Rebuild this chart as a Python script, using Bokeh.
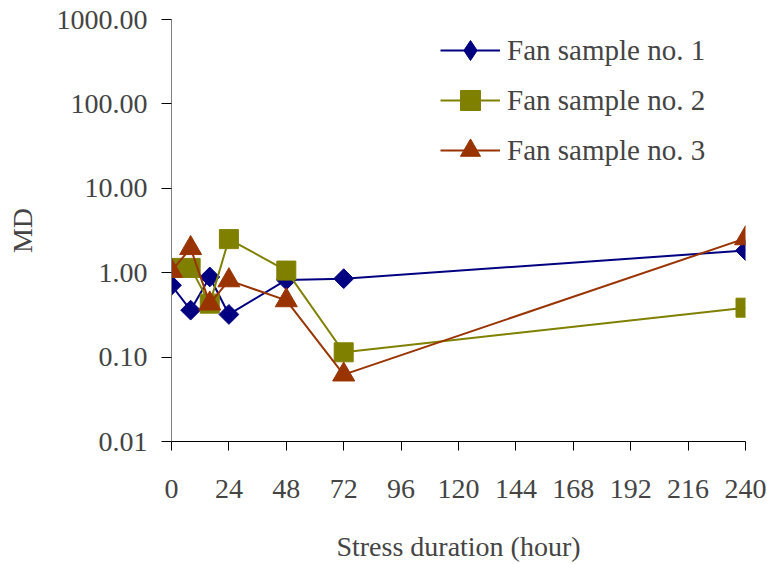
import math
from bokeh.plotting import figure
from bokeh.models import FixedTicker, PrintfTickFormatter, Legend
from bokeh.embed import file_html
from bokeh.resources import INLINE

hours = [0, 8, 16, 24, 48, 72, 240]
fan1 = [0.71, 0.36, 0.89, 0.32, 0.82, 0.85, 1.83]
fan2 = [1.14, 1.14, 0.43, 2.5, 1.06, 0.114, 0.385]
fan3 = [1.05, 1.95, 0.43, 0.81, 0.47, 0.062, 2.55]
names = ["Fan sample no. 1", "Fan sample no. 2", "Fan sample no. 3"]
x_ticks = [0, 24, 48, 72, 96, 120, 144, 168, 192, 216, 240]
y_ticks = [0.01, 0.1, 1, 10, 100, 1000]

FONT = "Liberation Serif"

p = figure(width=767, height=564, x_range=(0, 240), y_range=(0.01, 1000),
           y_axis_type="log", output_backend="svg", toolbar_location=None,
           min_border_left=171, min_border_right=22, min_border_top=19,
           min_border_bottom=120)
p.outline_line_color = None
p.xgrid.grid_line_color = None
p.ygrid.grid_line_color = None
p.background_fill_color = "white"
p.border_fill_color = "white"

r1l = p.line(hours, fan1, line_color="#000080", line_width=2)
r1m = p.scatter(hours, fan1, marker="square", angle=math.pi / 4, size=14,
                fill_color="#000080", line_color="#000080")
# legend-only diamond (legend glyphs are drawn without rotation); hidden in the plot
r1k = p.scatter(hours, fan1, marker="diamond", size=20,
                fill_color="#000080", line_color="#000080", visible=False)
r2l = p.line(hours, fan2, line_color="#808000", line_width=2)
r2m = p.scatter(hours, fan2, marker="square", size=19,
                fill_color="#808000", line_color="#808000")
r3l = p.line(hours, fan3, line_color="#993300", line_width=2)
r3m = p.scatter(hours, fan3, marker="triangle", size=22,
                fill_color="#993300", line_color="#993300")

legend = Legend(items=[(names[0], [r1l, r1k]), (names[1], [r2l, r2m]), (names[2], [r3l, r3m])],
                location=(269, 266), padding=0, margin=0, spacing=0,
                glyph_width=60, glyph_height=50, label_height=50,
                label_standoff=7, label_text_font=FONT, label_text_font_size="29px",
                border_line_color=None, background_fill_alpha=0,
                inactive_fill_alpha=0)
p.add_layout(legend, "center")

xa = p.xaxis[0]
xa.ticker = FixedTicker(ticks=x_ticks)
xa.axis_label = "Stress duration (hour)"
xa.axis_line_color = "black"
xa.major_tick_line_color = "black"
xa.major_tick_in = 0
xa.major_tick_out = 9
xa.minor_tick_line_color = None
xa.major_label_standoff = 29
xa.axis_label_standoff = 30
xa.major_label_text_font = FONT
xa.major_label_text_font_size = "28px"
xa.axis_label_text_font = FONT
xa.axis_label_text_font_size = "28px"
xa.axis_label_text_font_style = "normal"

ya = p.yaxis[0]
ya.ticker = FixedTicker(ticks=y_ticks)
ya.formatter = PrintfTickFormatter(format="%.2f")
ya.axis_label = "MD"
ya.axis_line_color = "#808080"
ya.major_tick_line_color = "black"
ya.major_tick_in = 0
ya.major_tick_out = 10
ya.minor_tick_line_color = None
ya.major_label_standoff = 14
ya.axis_label_standoff = 16
ya.major_label_text_font = FONT
ya.major_label_text_font_size = "28px"
ya.axis_label_text_font = FONT
ya.axis_label_text_font_size = "28px"
ya.axis_label_text_font_style = "normal"

open("out.html", "w").write(file_html(p, INLINE))
